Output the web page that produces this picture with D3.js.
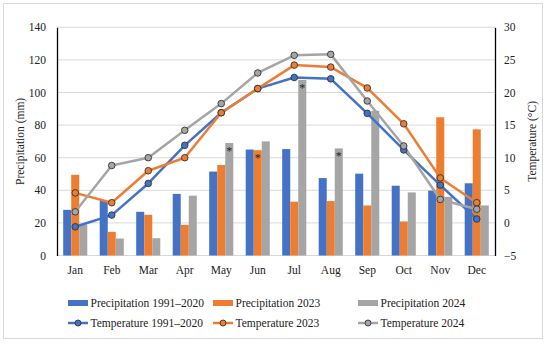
<!DOCTYPE html>
<html>
<head>
<meta charset="utf-8">
<script src="https://cdn.jsdelivr.net/npm/d3@7/dist/d3.min.js"></script>
<style>
html,body{margin:0;padding:0;background:#fff;}
svg{display:block;font-family:"Liberation Serif","DejaVu Serif",serif;}
</style>
</head>
<body>
<svg id="chart" width="550" height="344"></svg>
<script>
const months = ["Jan","Feb","Mar","Apr","May","Jun","Jul","Aug","Sep","Oct","Nov","Dec"];
const precip19912020 = [28, 33.5, 26.8, 37.8, 51.5, 65, 65.3, 47.5, 50.2, 42.8, 39.8, 44.3];
const precip2023 = [49.5, 14.5, 25, 18.8, 55.5, 64.6, 33, 33.4, 30.7, 20.9, 84.8, 77.4];
const precip2024 = [19, 10.4, 10.6, 36.7, 69, 70, 107.7, 65.7, 88.8, 38.7, 36, 30.7];
const temp19912020 = [-0.6, 1.2, 6.05, 11.9, 16.9, 20.6, 22.3, 22.1, 16.8, 11.2, 5.8, 0.6];
const temp2023 = [4.6, 3.1, 8.0, 10.0, 16.9, 20.6, 24.2, 23.9, 20.7, 15.2, 6.9, 3.1];
const temp2024 = [1.7, 8.8, 10.0, 14.2, 18.3, 23.0, 25.7, 25.85, 18.7, 11.8, 3.6, 2.1];
const precipTicks = [0, 20, 40, 60, 80, 100, 120, 140];
const tempTicks = [-5, 0, 5, 10, 15, 20, 25, 30];
// asterisks: [series index, month index]
const asterisks = [[2, 4], [1, 5], [2, 6], [2, 7]];

const precipNames = ["Precipitation 1991\u20132020", "Precipitation 2023", "Precipitation 2024"];
const tempNames = ["Temperature 1991\u20132020", "Temperature 2023", "Temperature 2024"];
const colors = ["#4472C4", "#ED7D31", "#A5A5A5"];

const precipSeries = [precip19912020, precip2023, precip2024];
const tempSeries = [temp19912020, temp2023, temp2024];

const svg = d3.select("#chart");
const margin = {left: 57, right: 495, top: 27.3, bottom: 255.5};

svg.append("rect").attr("x", 3.5).attr("y", 3.5).attr("width", 539).attr("height", 335)
  .attr("fill", "#fff").attr("stroke", "#d9d9d9").attr("stroke-width", 1);

const x = d3.scaleBand().domain(months).range([margin.left, margin.right]).paddingInner(0.34).paddingOuter(0.17);
const xs = d3.scaleBand().domain([0, 1, 2]).range([0, x.bandwidth()]);
const xc = m => x(m) + x.bandwidth() / 2;
const yP = d3.scaleLinear().domain([0, 140]).range([margin.bottom, margin.top]);
const yT = d3.scaleLinear().domain([-5, 30]).range([margin.bottom, margin.top]);

// gridlines
svg.append("g").selectAll("line").data(precipTicks).join("line")
  .attr("x1", margin.left).attr("x2", margin.right)
  .attr("y1", d => yP(d)).attr("y2", d => yP(d))
  .attr("stroke", "#d9d9d9").attr("stroke-width", 1);

// bars
precipSeries.forEach((vals, s) => {
  svg.append("g").selectAll("rect").data(vals).join("rect")
    .attr("x", (d, i) => x(months[i]) + xs(s))
    .attr("width", xs.bandwidth())
    .attr("y", d => yP(d))
    .attr("height", d => yP(0) - yP(d))
    .attr("fill", colors[s]);
});

// asterisks
svg.append("g").selectAll("text").data(asterisks).join("text")
  .attr("x", d => x(months[d[1]]) + xs(d[0]) + xs.bandwidth() / 2)
  .attr("y", d => yP(precipSeries[d[0]][d[1]]) + 12)
  .attr("text-anchor", "middle")
  .attr("font-size", 12)
  .attr("fill", "#222")
  .text("*");

// axes
const axL = d3.axisLeft(yP).tickValues(precipTicks).tickSize(0).tickPadding(11);
const gL = svg.append("g").attr("transform", `translate(${margin.left},0)`).call(axL);
gL.select(".domain").attr("stroke", "#000").attr("stroke-width", 1.3);
gL.selectAll("text").attr("font-size", 11.5).attr("font-family", "Liberation Serif").attr("fill", "#222");

const axR = d3.axisRight(yT).tickValues(tempTicks).tickSize(0).tickPadding(9)
  .tickFormat(d => d < 0 ? "\u2212" + Math.abs(d) : d);
const gR = svg.append("g").attr("transform", `translate(${margin.right},0)`).call(axR);
gR.select(".domain").attr("stroke", "#000").attr("stroke-width", 1.3);
gR.selectAll("text").attr("font-size", 11.5).attr("font-family", "Liberation Serif").attr("fill", "#222");

const axB = d3.axisBottom(x).tickSize(0).tickPadding(10);
const gB = svg.append("g").attr("transform", `translate(0,${margin.bottom})`).call(axB);
gB.select(".domain").remove();
gB.selectAll("text").attr("font-size", 11.5).attr("font-family", "Liberation Serif").attr("fill", "#222");

// axis titles
svg.append("text").attr("transform", `translate(20,${(margin.top + margin.bottom) / 2}) rotate(-90)`)
  .attr("text-anchor", "middle").attr("dominant-baseline", "central")
  .attr("font-size", 11.5).attr("fill", "#222").text("Precipitation (mm)");
svg.append("text").attr("transform", `translate(532,${(margin.top + margin.bottom) / 2}) rotate(-90)`)
  .attr("text-anchor", "middle").attr("dominant-baseline", "central")
  .attr("font-size", 11.5).attr("fill", "#222").text("Temperature (\u00B0C)");

// lines
const line = d3.line().x((d, i) => xc(months[i])).y(d => yT(d));
tempSeries.forEach((vals, s) => {
  svg.append("path").datum(vals).attr("d", line)
    .attr("fill", "none").attr("stroke", colors[s]).attr("stroke-width", 2.5)
    .attr("stroke-linejoin", "round");
});
tempSeries.forEach((vals, s) => {
  svg.append("g").selectAll("circle").data(vals).join("circle")
    .attr("cx", (d, i) => xc(months[i])).attr("cy", d => yT(d)).attr("r", 3.3)
    .attr("fill", colors[s]).attr("stroke", "#333").attr("stroke-width", 0.9);
});

// legend
const legX = [68, 213, 358];
const legY1 = 303, legY2 = 323;
const leg = svg.append("g");
precipNames.forEach((n, i) => {
  leg.append("rect").attr("x", legX[i]).attr("y", legY1 - 3).attr("width", 20).attr("height", 6).attr("fill", colors[i]);
  leg.append("text").attr("x", legX[i] + 22.5).attr("y", legY1).attr("dominant-baseline", "central")
    .attr("font-size", 11.5).attr("fill", "#222").text(n);
});
tempNames.forEach((n, i) => {
  leg.append("line").attr("x1", legX[i]).attr("x2", legX[i] + 20).attr("y1", legY2).attr("y2", legY2)
    .attr("stroke", colors[i]).attr("stroke-width", 2.5);
  leg.append("circle").attr("cx", legX[i] + 10).attr("cy", legY2).attr("r", 3)
    .attr("fill", colors[i]).attr("stroke", "#333").attr("stroke-width", 0.9);
  leg.append("text").attr("x", legX[i] + 22.5).attr("y", legY2).attr("dominant-baseline", "central")
    .attr("font-size", 11.5).attr("fill", "#222").text(n);
});
</script>
</body>
</html>
